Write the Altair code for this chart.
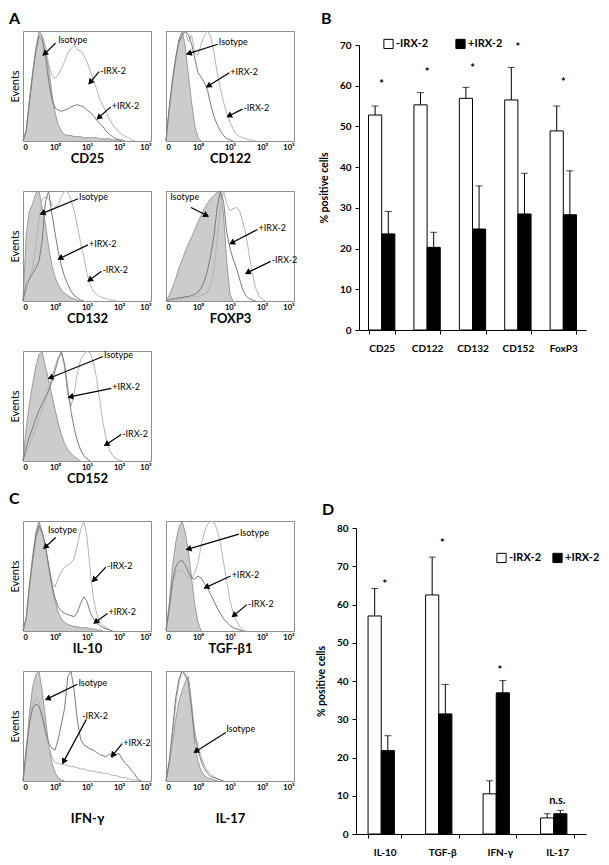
import math
import altair as alt
import pandas as pd

FONT = "Lato"
HW, HH = 128, 110          # histogram plot size
BIN = 0.1                  # histogram channel spacing (decades)
ISO_FILL, ISO_LINE = "#b6b6b6", "#888888"
PLUS_C, MINUS_C = "#7a7a7a", "#b4b4b4"
BOX = "#8f8f8f"

TICK_VALUES = [0, 1, 2, 3, 4]
TICK_LABELS = ["0", "10⁰", "10¹", "10²", "10³"]

# ---- flow histograms (relative event counts per channel) ----
CD25_ISO = [0,10,38,62,84,100,96,86,66,44,26,15,9,6,5,5,4,4,4,3,3,3,3,3,2,2,2,2,1,1,1,1,0]
CD25_PLUS = [0,9,35,60,82,95,92,78,55,38,30,28,27,28,29,31,32,33,32,31,28,26,23,19,16,13,9,6,4,2,1,0]
CD25_MINUS = [0,9,35,60,82,96,95,85,70,60,57,60,66,72,80,84,87,83,82,78,72,64,56,47,38,32,26,20,15,11,8,6,4,3,1,0]

CD122_ISO = [0,30,55,75,92,100,87,60,35,14,3,0]
CD122_PLUS = [0,30,55,75,90,96,100,97,88,75,62,58,53,46,33,22,15,9,5,2,1,0]
CD122_MINUS = [0,25,50,72,88,95,100,90,96,80,78,88,96,100,95,80,62,48,35,25,17,11,6,4,3,2,1,1,0]

CD132_ISO = [0,60,82,88,98,100,85,70,50,33,22,15,10,7,5,3,2,1,0]
CD132_PLUS = [0,15,20,25,30,36,55,90,100,80,62,45,32,22,15,9,5,3,1,0]
CD132_MINUS = [0,10,20,30,50,75,92,95,93,88,85,87,95,100,99,92,82,68,53,40,25,15,9,6,4,3,2,1,1,0]

FOXP3_ISO = [0,5,12,20,30,37,45,52,58,65,72,78,84,89,93,96,99,100,78,35,6,0]
FOXP3_PLUS = [0,1,2,2,3,3,4,4,5,6,8,12,18,28,42,60,85,100,90,62,48,38,30,20,10,5,2,1,0]
FOXP3_MINUS = [0,1,1,2,2,2,3,3,3,4,4,5,6,8,15,30,55,85,100,88,82,84,85,82,72,60,42,25,12,5,2,0]

CD152_ISO = [0,30,52,70,86,97,99,86,74,60,47,35,24,16,10,7,4,2,0]
CD152_PLUS = [0,12,22,30,38,46,52,58,64,72,82,92,100,88,66,45,30,18,10,5,2,0]
CD152_MINUS = [0,8,15,22,30,38,46,55,65,76,86,94,98,85,60,50,62,80,92,97,100,98,90,75,55,35,20,10,5,2,1,0]

IL10_ISO = [0,12,42,68,90,100,90,77,58,40,27,17,11,8,6,5,4,4,3,3,3,2,2,1,1,0]
IL10_PLUS = [0,12,40,65,86,96,90,78,60,43,30,22,18,16,15,14,13,17,25,31,27,17,11,7,5,3,2,1,0]
IL10_MINUS = [0,11,38,62,82,94,88,75,60,45,40,48,54,58,60,62,66,78,92,100,86,55,30,16,8,5,3,1,0]

TGF_ISO = [0,25,58,80,94,100,90,72,48,24,8,0]
TGF_PLUS = [0,20,45,58,63,64,60,54,48,47,50,48,43,39,33,27,21,16,11,8,5,3,2,1,0]
TGF_MINUS = [0,18,40,52,55,55,52,48,47,53,62,78,90,97,100,99,92,80,62,45,28,16,9,4,1,0]

IFN_ISO = [0,25,62,85,97,100,82,58,33,17,8,3,1,0]
IFN_PLUS = [0,28,52,66,70,68,58,45,35,30,28,38,52,66,95,100,82,55,38,33,31,29,28,26,24,23,22,25,21,24,25,20,16,13,9,6,1,0]
IFN_MINUS = [0,30,55,70,75,72,62,48,32,22,17,16,15,15,14,13,13,12,11,11,10,9,9,8,8,7,7,6,5,5,4,3,3,2,1,1,0]

IL17_ISO = [0,15,35,55,72,82,90,95,70,32,18,9,5,3,2,1,0]
IL17_PLUS = [0,18,45,75,92,100,96,90,65,40,28,18,11,7,4,3,2,1,0]
IL17_MINUS = [0,16,40,68,88,100,98,92,70,45,32,22,14,9,6,4,2,1,0]

# annotations: (label, text x, text y, arrow tail x, tail y, arrow tip x, tip y)
CD25_NOTES = [("Isotype", 1.07, 92, 1.02, 89, 0.63, 78), ("-IRX-2", 2.38, 64, 2.38, 63, 2.06, 52),
              ("+IRX-2", 2.74, 32, 2.74, 31, 2.32, 20)]
CD122_NOTES = [("Isotype", 1.62, 90, 1.62, 88, 0.65, 79), ("+IRX-2", 1.98, 63, 1.98, 62, 1.27, 49),
               ("-IRX-2", 2.39, 30, 2.39, 29, 1.91, 22)]
CD132_NOTES = [("Isotype", 1.72, 95, 1.72, 93, 0.55, 79), ("+IRX-2", 2.03, 52, 2.03, 51, 1.10, 38),
               ("-IRX-2", 2.45, 28, 2.45, 27, 2.03, 18)]
FOXP3_NOTES = [("Isotype", 0.10, 95, 0.78, 85, 1.32, 77), ("+IRX-2", 2.86, 66, 2.86, 65, 2.00, 52),
               ("-IRX-2", 3.27, 37, 3.27, 36, 2.49, 25)]
CD152_NOTES = [("Isotype", 2.50, 96, 2.50, 95, 0.80, 75), ("+IRX-2", 2.76, 67, 2.76, 66, 1.42, 58),
               ("-IRX-2", 3.07, 25, 3.07, 24, 2.55, 14)]
IL10_NOTES = [("Isotype", 0.75, 92, 1.02, 85, 0.65, 75), ("-IRX-2", 2.59, 59, 2.59, 58, 2.17, 45),
              ("+IRX-2", 2.64, 17, 2.64, 16, 2.22, 7)]
TGF_NOTES = [("Isotype", 2.28, 89, 2.28, 88, 0.64, 74), ("+IRX-2", 2.02, 51, 2.02, 50, 1.20, 39),
             ("-IRX-2", 2.53, 25, 2.53, 24, 2.07, 13)]
IFN_NOTES = [("Isotype", 1.70, 89, 1.70, 88, 0.71, 74), ("-IRX-2", 1.82, 59, 1.98, 56, 1.24, 16),
             ("+IRX-2", 3.10, 35, 3.10, 34, 2.76, 22)]
IL17_NOTES = [("Isotype", 1.85, 47, 1.87, 44, 0.88, 26)]

# ---- bar charts ----
GROUPS = ["-IRX-2", "+IRX-2"]
B_CATS = ["CD25", "CD122", "CD132", "CD152", "FoxP3"]
B_MINUS = [52.8, 55.3, 56.9, 56.5, 48.9]
B_MINUS_ERR = [2.2, 3.0, 2.7, 8.0, 6.1]
B_PLUS = [23.6, 20.3, 24.8, 28.5, 28.3]
B_PLUS_ERR = [5.5, 3.7, 10.6, 10.0, 10.8]
B_MARK = ["*", "*", "*", "*", "*"]
B_MARK_Y = [60.2, 63.1, 64.1, 69.3, 60.6]

D_CATS = ["IL-10", "TGF-β", "IFN-γ", "IL-17"]
D_MINUS = [57.0, 62.5, 10.5, 4.2]
D_MINUS_ERR = [7.2, 9.9, 3.4, 1.1]
D_PLUS = [21.8, 31.4, 36.9, 5.3]
D_PLUS_ERR = [3.9, 7.7, 3.2, 0.9]
D_MARK = ["*", "*", "*", "n.s."]
D_MARK_Y = [65.0, 75.8, 42.5, 8.5]

LABEL_EXPR = "[" + ",".join("'%s'" % t for t in TICK_LABELS) + "][datum.value]"
NO_BOX = alt.ViewBackground(stroke="transparent")


def curve(vals):
    return pd.DataFrame({"x": [round(i * BIN, 2) for i in range(len(vals))], "y": vals})


def hist(title, iso, plus, minus, notes, events, title_pad=2):
    xs = alt.Scale(domain=[0, 4], nice=False, zero=False)
    ys = alt.Scale(domain=[0, 100], nice=False)
    xa = alt.Axis(values=TICK_VALUES, labelExpr=LABEL_EXPR, domain=False, ticks=False, grid=False,
                  labelFont=FONT, labelFontSize=7.5, labelFontWeight="bold", labelColor="black",
                  labelPadding=2, title=title, titleFont=FONT, titleFontSize=13, titleFontWeight="bold",
                  titleColor="black", titlePadding=title_pad)
    if events:
        ya = alt.Axis(labels=False, ticks=False, domain=False, grid=False, title="Events",
                      titleFont=FONT, titleFontSize=11, titleFontWeight="normal", titleColor="black",
                      titlePadding=3)
    else:
        ya = None
    X = alt.X("x:Q", scale=xs, axis=xa)
    Y = alt.Y("y:Q", scale=ys, axis=ya)
    area = alt.Chart(curve(iso)).mark_area(
        color=ISO_FILL, line={"color": ISO_LINE, "strokeWidth": 0.8}).encode(x=X, y=Y)
    lp = alt.Chart(curve(plus)).mark_line(color=PLUS_C, strokeWidth=1).encode(x=X, y=Y)
    lm = alt.Chart(curve(minus)).mark_line(color=MINUS_C, strokeWidth=1).encode(x=X, y=Y)

    rows, heads = [], []
    sx, sy = HW / 4.0, HH / 100.0
    for lab, tx, ty, ax, ay, bx, by in notes:
        dxp, dyp = (bx - ax) * sx, -(by - ay) * sy
        ln = math.hypot(dxp, dyp)
        ux, uy = dxp / ln, dyp / ln
        ang = math.degrees(math.atan2(dxp, -dyp)) % 360
        rows.append({"x": ax, "y": ay, "x2": bx, "y2": by})
        heads.append({"x": bx - 3 * ux / sx, "y": by + 3 * uy / sy, "ang": ang, "lab": lab, "tx": tx, "ty": ty})
    ndf = pd.DataFrame(rows)
    hdf = pd.DataFrame(heads)
    rule = alt.Chart(ndf).mark_rule(color="black", strokeWidth=1.2).encode(x=X, y=Y, x2="x2:Q", y2="y2:Q")
    head = alt.Chart(hdf).mark_point(shape="triangle", filled=True, size=45, color="black", opacity=1).encode(
        x=X, y=Y, angle=alt.Angle("ang:Q", scale=None))
    text = alt.Chart(hdf).mark_text(align="left", baseline="middle", font=FONT, fontSize=9,
                                    color="black", dx=1).encode(
        x=alt.X("tx:Q", scale=xs, axis=xa), y=alt.Y("ty:Q", scale=ys, axis=ya), text="lab:N")
    return alt.layer(area, lm, lp, rule, head, text).properties(width=HW, height=HH)


def bars(cats, minus, minus_err, plus, plus_err, marks, mark_y, width, height, ymax,
         legend_x, legend_y, legend_pad):
    n = len(cats)
    df = pd.DataFrame({"cat": cats * 2, "grp": [GROUPS[0]] * n + [GROUPS[1]] * n,
                       "v": minus + plus, "err": minus_err + plus_err})
    ys = alt.Scale(domain=[0, ymax], nice=False)
    ya = alt.Axis(values=list(range(0, ymax + 1, 10)), grid=False, domainColor="black", tickColor="black",
                  tickSize=4, labelFont=FONT, labelFontSize=10, labelFontWeight="bold", labelColor="black",
                  labelPadding=4, title="% positive cells", titleFont=FONT, titleFontSize=10.5,
                  titleFontWeight="bold", titleColor="black", titlePadding=10)
    X = alt.X("cat:N", sort=cats, scale=alt.Scale(paddingInner=0.42, paddingOuter=0.21),
              axis=alt.Axis(title=None, labelAngle=0, tickBand="extent", grid=False, domainColor="black",
                            tickColor="black", tickSize=4, labelFont=FONT, labelFontSize=10,
                            labelFontWeight="bold", labelColor="black", labelPadding=9))
    XO = alt.XOffset("grp:N", sort=GROUPS, scale=alt.Scale(paddingInner=0, paddingOuter=0))
    C = alt.Color("grp:N", sort=GROUPS, scale=alt.Scale(domain=GROUPS, range=["white", "black"]),
                  legend=alt.Legend(title=None, orient="none", legendX=legend_x, legendY=legend_y,
                                    direction="horizontal", symbolType="square", symbolSize=85,
                                    symbolStrokeColor="black", symbolStrokeWidth=1, labelFont=FONT,
                                    labelFontSize=11, labelFontWeight="bold", labelColor="black",
                                    columnPadding=legend_pad, labelOffset=2))
    base = alt.Chart(df).transform_calculate(top="datum.v + datum.err")
    b = base.mark_bar(stroke="black", strokeWidth=1).encode(
        x=X, xOffset=XO, y=alt.Y("v:Q", scale=ys, axis=ya), color=C)
    e = base.mark_rule(color="black", strokeWidth=1).encode(
        x=X, xOffset=XO, y=alt.Y("v:Q", scale=ys, axis=ya), y2="top:Q")
    cap = base.mark_tick(color="black", thickness=1, size=7, orient="horizontal").encode(
        x=X, xOffset=XO, y=alt.Y("top:Q", scale=ys, axis=ya))
    sdf = pd.DataFrame({"cat": cats, "m": marks, "my": mark_y})
    s = alt.Chart(sdf).mark_text(font=FONT, fontSize=11, fontWeight="bold", color="black").encode(
        x=X, y=alt.Y("my:Q", scale=ys, axis=ya), text="m:N")
    return alt.layer(e, cap, b, s).properties(width=width, height=height, view=NO_BOX)


def letter(t, h, x, y=0):
    return alt.Chart(pd.DataFrame({"t": [t]})).mark_text(
        align="left", baseline="top", font=FONT, fontSize=16, fontWeight="bold", color="black").encode(
        text="t:N", x=alt.value(x), y=alt.value(y)).properties(width=1, height=h, view=NO_BOX)


h_cd25 = hist("CD25", CD25_ISO, CD25_PLUS, CD25_MINUS, CD25_NOTES, True)
h_cd122 = hist("CD122", CD122_ISO, CD122_PLUS, CD122_MINUS, CD122_NOTES, False)
h_cd132 = hist("CD132", CD132_ISO, CD132_PLUS, CD132_MINUS, CD132_NOTES, True)
h_foxp3 = hist("FOXP3", FOXP3_ISO, FOXP3_PLUS, FOXP3_MINUS, FOXP3_NOTES, False)
h_cd152 = hist("CD152", CD152_ISO, CD152_PLUS, CD152_MINUS, CD152_NOTES, True)
h_il10 = hist("IL-10", IL10_ISO, IL10_PLUS, IL10_MINUS, IL10_NOTES, True)
h_tgf = hist("TGF-β1", TGF_ISO, TGF_PLUS, TGF_MINUS, TGF_NOTES, False)
h_ifn = hist("IFN-γ", IFN_ISO, IFN_PLUS, IFN_MINUS, IFN_NOTES, True, title_pad=22)
h_il17 = hist("IL-17", IL17_ISO, IL17_PLUS, IL17_MINUS, IL17_NOTES, False, title_pad=22)

panel_b = bars(B_CATS, B_MINUS, B_MINUS_ERR, B_PLUS, B_PLUS_ERR, B_MARK, B_MARK_Y, 227, 285, 70,
               24, -7, 24)
panel_d = bars(D_CATS, D_MINUS, D_MINUS_ERR, D_PLUS, D_PLUS_ERR, D_MARK, D_MARK_Y, 230, 306, 80,
               140, 24, 8)

rows_a = alt.vconcat(alt.hconcat(h_cd25, h_cd122, spacing=11),
                     alt.hconcat(h_cd132, h_foxp3, spacing=11),
                     h_cd152, spacing=22)
rows_c = alt.vconcat(alt.hconcat(h_il10, h_tgf, spacing=11),
                     alt.hconcat(h_ifn, h_il17, spacing=11),
                     spacing=12)

col_a = alt.vconcat(letter("A", 10, -14), rows_a, spacing=0)
col_b = alt.vconcat(letter("B", 25, -38), panel_b, spacing=0).resolve_legend(color="independent")
col_c = alt.vconcat(letter("C", 26, -14), rows_c, spacing=0)
col_d = alt.vconcat(letter("D", 30, -34, 11), panel_d, spacing=0).resolve_legend(color="independent")

top = alt.hconcat(col_a, col_b, spacing=20).resolve_scale(color="independent").resolve_legend(
    color="independent")
bottom = alt.hconcat(col_c, col_d, spacing=20).resolve_scale(color="independent").resolve_legend(
    color="independent")

chart = alt.vconcat(top, bottom, spacing=4).resolve_scale(color="independent").resolve_legend(
    color="independent").properties(
    padding={"top": 2, "left": 0, "right": 0, "bottom": 0}).configure(
    font=FONT).configure_view(stroke=BOX, strokeWidth=1)

chart.save("out.html", embed_options={"renderer": "svg", "actions": False})
